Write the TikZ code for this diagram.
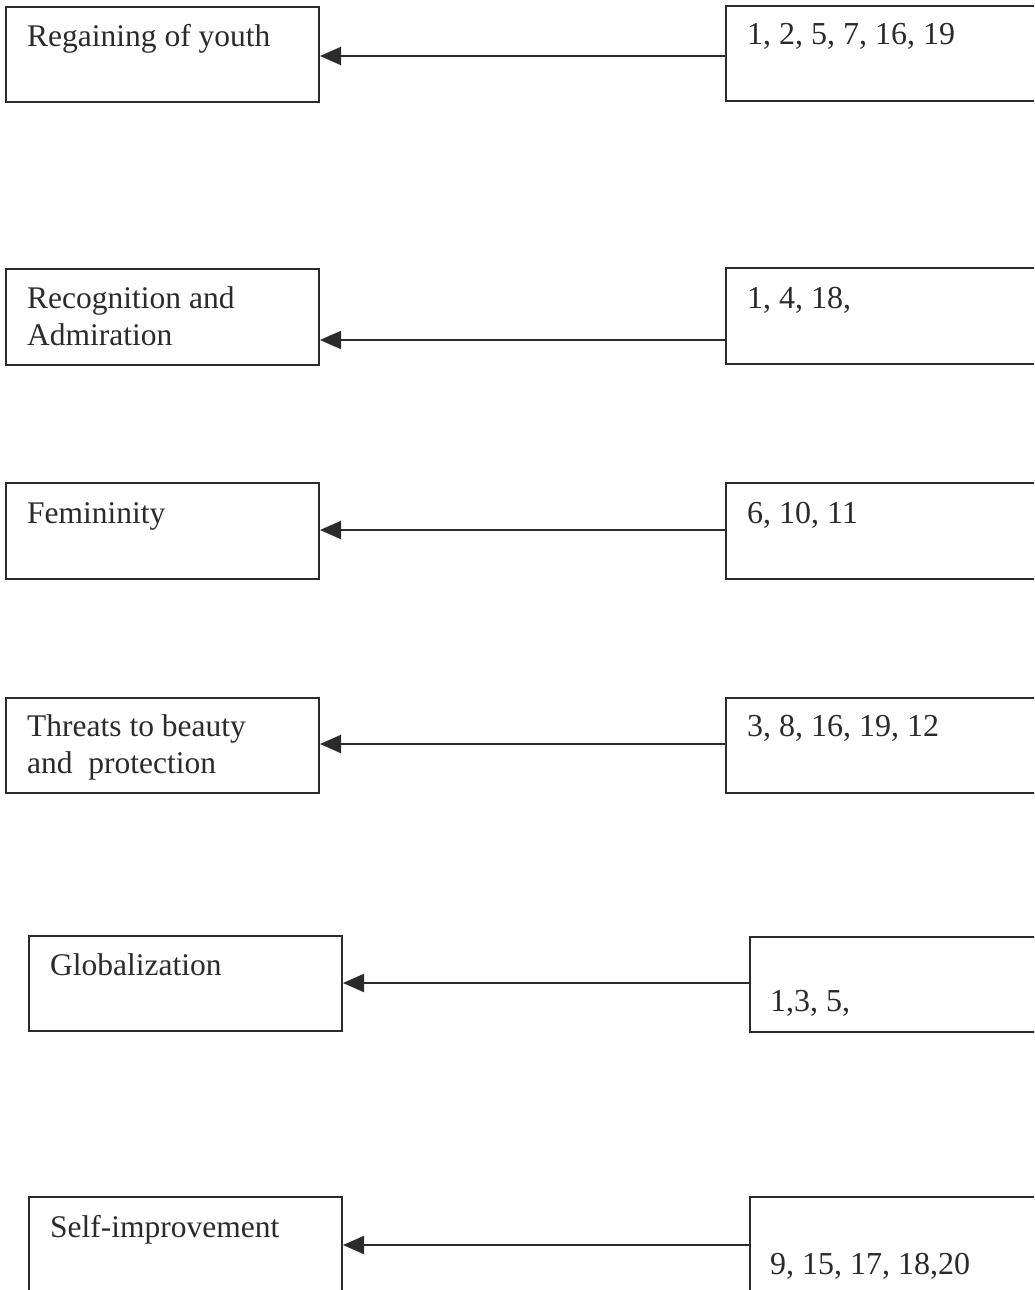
\documentclass[tikz,border=0pt]{standalone}
\usepackage{fontspec}
\setmainfont{Liberation Serif}
\usetikzlibrary{arrows.meta}
\definecolor{ink}{HTML}{2B2B2B}
\tikzset{
  box/.style={draw=ink, line width=2pt, inner sep=0pt, anchor=north west, rectangle},
  lbl/.style={text=ink, inner sep=0pt, anchor=base west, font=\fontsize{31.5}{37}\selectfont, align=left},
  num/.style={lbl, font=\fontsize{32}{37}\selectfont},
  arr/.style={draw=ink, line width=2pt, -{Triangle[length=21pt, width=18pt]}},
}
\begin{document}
\begin{tikzpicture}[x=1pt, y=-1pt]
\useasboundingbox (0,0) rectangle (1034,1290);
\fill[white] (0,0) rectangle (1034,1290);
\clip (0,0) rectangle (1034,1290);
% row 1
\node[box, minimum width=313pt, minimum height=95pt] (l1) at (5,6) {};
\node[box, minimum width=400pt, minimum height=95pt] (r1) at (725,5) {};
\node[lbl] (t1) at (27,47) {Regaining of youth};
\node[num] (n1) at (747,45) {1, 2, 5, 7, 16, 19};
\draw[arr] (r1.west |- 0,56) -- (l1.east |- 0,56);
% row 2
\node[box, minimum width=313pt, minimum height=96pt] (l2) at (5,268) {};
\node[box, minimum width=400pt, minimum height=96pt] (r2) at (725,267) {};
\node[lbl] (t2a) at (27,308) {Recognition and};
\node[lbl] (t2b) at (27,345) {Admiration};
\node[num] (n2) at (747,308) {1, 4, 18,};
\draw[arr] (r2.west |- 0,340) -- (l2.east |- 0,340);
% row 3
\node[box, minimum width=313pt, minimum height=96pt] (l3) at (5,482) {};
\node[box, minimum width=400pt, minimum height=96pt] (r3) at (725,482) {};
\node[lbl] (t3) at (27,523) {Femininity};
\node[num] (n3) at (747,523) {6, 10, 11};
\draw[arr] (r3.west |- 0,530) -- (l3.east |- 0,530);
% row 4
\node[box, minimum width=313pt, minimum height=95pt] (l4) at (5,697) {};
\node[box, minimum width=400pt, minimum height=95pt] (r4) at (725,697) {};
\node[lbl] (t4a) at (27,736) {Threats to beauty};
\node[lbl] (t4b) at (27,773) {and\ \ protection};
\node[num] (n4) at (747,736) {3, 8, 16, 19, 12};
\draw[arr] (r4.west |- 0,744) -- (l4.east |- 0,744);
% row 5
\node[box, minimum width=313pt, minimum height=95pt] (l5) at (28,935) {};
\node[box, minimum width=400pt, minimum height=95pt] (r5) at (749,936) {};
\node[lbl] (t5) at (50,975) {Globalization};
\node[num] (n5) at (770,1011) {1,3, 5,};
\draw[arr] (r5.west |- 0,983) -- (l5.east |- 0,983);
% row 6
\node[box, minimum width=313pt, minimum height=200pt] (l6) at (28,1196) {};
\node[box, minimum width=400pt, minimum height=200pt] (r6) at (749,1196) {};
\node[lbl] (t6) at (50,1237) {Self-improvement};
\node[num] (n6) at (770,1274) {9, 15, 17, 18,20};
\draw[arr] (r6.west |- 0,1245) -- (l6.east |- 0,1245);
\end{tikzpicture}
\end{document}
